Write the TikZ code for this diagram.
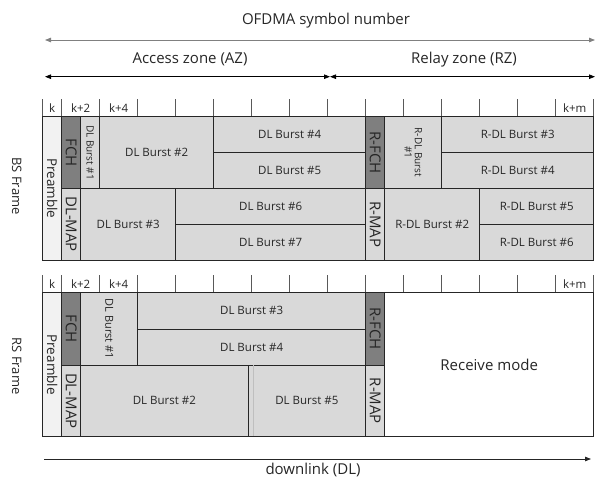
\documentclass[tikz,border=0pt]{standalone}
\usepackage{fontspec}
\setmainfont{Open Sans}
\usetikzlibrary{arrows.meta}
\definecolor{dkcell}{HTML}{7F7F7F}
\definecolor{ltcell}{HTML}{D9D9D9}
\definecolor{precell}{HTML}{F2F2F2}
\definecolor{txt}{HTML}{262626}
\definecolor{tickc}{HTML}{595959}
\definecolor{arrowgray}{HTML}{808080}
\newcommand{\rot}[1]{\rotatebox[origin=c]{-90}{#1}}
\newcommand{\cellbox}[7]{%
  \node[cellb,#6,minimum width={(#4-#2)*1pt},minimum height={(#5-#3)*1pt}] (#1) at ({(#2+#4)/2},{(#3+#5)/2}) {#7};}
\tikzset{
  cellb/.style={draw=black!85,line width=0.7pt,inner sep=0pt,text=txt,font=\fontsize{11.5}{13}\selectfont},
  dk/.style={fill=dkcell},
  lt/.style={fill=ltcell},
  pr/.style={fill=precell},
  wh/.style={fill=white},
  vlab/.style={font=\fontsize{15}{17}\selectfont},
  smalllab/.style={font=\fontsize{10}{11}\selectfont},
  ticklab/.style={text=txt,inner sep=0pt,font=\fontsize{11.5}{12}\selectfont},
  sidelab/.style={text=txt,inner sep=0pt,font=\fontsize{13}{15}\selectfont},
  biglab/.style={text=txt,inner sep=0pt,font=\fontsize{15}{17}\selectfont},
  ticks/.style={draw=tickc,line width=0.7pt},
  dblarrow/.style={line width=0.8pt,{Triangle[length=6pt,width=4.5pt]}-{Triangle[length=6pt,width=4.5pt]}},
  onearrow/.style={line width=0.8pt,-{Triangle[length=6pt,width=4.5pt]}}
}
\begin{document}
\begin{tikzpicture}[x=1pt,y=-1pt]
\useasboundingbox (0,0) rectangle (599,480);

% top arrows
\coordinate (oL) at (45,40);
\coordinate (oR) at (595,40);
\coordinate (aL) at (45,76.7);
\coordinate (aM) at (330,76.7);
\coordinate (aR) at (595,76.7);
\draw[dblarrow,draw=arrowgray,fill=arrowgray] (oL) -- (oR);
\draw[dblarrow,draw=black,fill=black] (aL) -- (aM);
\draw[dblarrow,draw=black,fill=black] (aM) -- (aR);
\node[biglab] (ofdma) at (326,21) {OFDMA symbol number};
\node[biglab] (az) at (190,59.5) {Access zone (AZ)};
\node[biglab] (rz) at (464,59.5) {Relay zone (RZ)};

% tick rows
\foreach \yt/\yb in {99.3/116.7, 275/292.7}{
  \draw[ticks] (42.7,\yt) -- (42.7,\yb);
  \foreach \n in {1,3,...,29}{
    \draw[ticks] ({42.7+19*\n},\yt) -- ({42.7+19*\n},\yb);
  }
}
\node[ticklab] (bk) at (52.2,108.3) {k};
\node[ticklab] (bk2) at (80.7,108.3) {k+2};
\node[ticklab] (bk4) at (118.7,108.3) {k+4};
\node[ticklab] (bkm) at (574.7,108.3) {k+m};
\node[ticklab] (rk) at (52.2,284) {k};
\node[ticklab] (rk2) at (80.7,284) {k+2};
\node[ticklab] (rk4) at (118.7,284) {k+4};
\node[ticklab] (rkm) at (574.7,284) {k+m};

% side labels
\node[sidelab] (bsf) at (16.7,186) {\rot{BS Frame}};
\node[sidelab] (rsf) at (16.7,366) {\rot{RS Frame}};

% BS frame
\cellbox{bpre}{42.7}{116.7}{61.7}{260}{pr,font=\fontsize{13.5}{15}\selectfont}{\rot{Preamble}}
\cellbox{bfch}{61.7}{116.7}{80.7}{188.3}{dk,vlab}{\rot{FCH}}
\cellbox{bmap}{61.7}{188.3}{80.7}{260}{lt,vlab}{\rot{DL-MAP}}
\cellbox{bb1}{80.7}{116.7}{99.7}{188.3}{lt,smalllab}{\rot{DL Burst \#1}}
\cellbox{bb2}{99.7}{116.7}{213.7}{188.3}{lt}{DL Burst \#2}
\cellbox{bb4}{213.7}{116.7}{365.7}{152.5}{lt}{DL Burst \#4}
\cellbox{bb5}{213.7}{152.5}{365.7}{188.3}{lt}{DL Burst \#5}
\cellbox{bb3}{80.7}{188.3}{175.7}{260}{lt}{DL Burst \#3}
\cellbox{bb6}{175.7}{188.3}{365.7}{224.1}{lt}{DL Burst \#6}
\cellbox{bb7}{175.7}{224.1}{365.7}{260}{lt}{DL Burst \#7}
\cellbox{brfch}{365.7}{116.7}{384.7}{188.3}{dk,vlab}{\rot{R-FCH}}
\cellbox{brmap}{365.7}{188.3}{384.7}{260}{lt,vlab}{\rot{R-MAP}}
\cellbox{br1}{384.7}{116.7}{441.7}{188.3}{lt,smalllab}{\rot{\shortstack{R-DL Burst\\\#1}}}
\cellbox{br3}{441.7}{116.7}{593.7}{152.5}{lt}{R-DL Burst \#3}
\cellbox{br4}{441.7}{152.5}{593.7}{188.3}{lt}{R-DL Burst \#4}
\cellbox{br2}{384.7}{188.3}{479.7}{260}{lt}{R-DL Burst \#2}
\cellbox{br5}{479.7}{188.3}{593.7}{224.1}{lt}{R-DL Burst \#5}
\cellbox{br6}{479.7}{224.1}{593.7}{260}{lt}{R-DL Burst \#6}

% RS frame
\cellbox{rpre}{42.7}{292.7}{61.7}{436.7}{pr,font=\fontsize{13.5}{15}\selectfont}{\rot{Preamble}}
\cellbox{rfch}{61.7}{292.7}{80.7}{365}{dk,vlab}{\rot{FCH}}
\cellbox{rmap}{61.7}{365}{80.7}{436.7}{lt,vlab}{\rot{DL-MAP}}
\cellbox{rb1}{80.7}{292.7}{137.7}{365}{lt,font=\fontsize{11}{12}\selectfont}{\rot{DL Burst \#1}}
\cellbox{rb3}{137.7}{292.7}{365.7}{329}{lt}{DL Burst \#3}
\cellbox{rb4}{137.7}{329}{365.7}{365}{lt}{DL Burst \#4}
\cellbox{rb2}{80.7}{365}{248}{436.7}{lt}{DL Burst \#2}
\cellbox{rb5}{248}{365}{365.7}{436.7}{lt}{DL Burst \#5}
\draw[draw=black!25,line width=0.6pt] (253.3,365.4) -- (253.3,436.3);
\cellbox{rrfch}{365.7}{292.7}{384.7}{365}{dk,vlab}{\rot{R-FCH}}
\cellbox{rrmap}{365.7}{365}{384.7}{436.7}{lt,vlab}{\rot{R-MAP}}
\cellbox{rrecv}{384.7}{292.7}{593.7}{436.7}{wh,font=\fontsize{15}{17}\selectfont}{Receive mode}

% bottom arrow
\coordinate (dL) at (44,459);
\coordinate (dR) at (591,459);
\draw[onearrow,draw=black!85,fill=black!85] (dL) -- (dR);
\node[biglab] (dl) at (313,470) {downlink (DL)};
\end{tikzpicture}
\end{document}
